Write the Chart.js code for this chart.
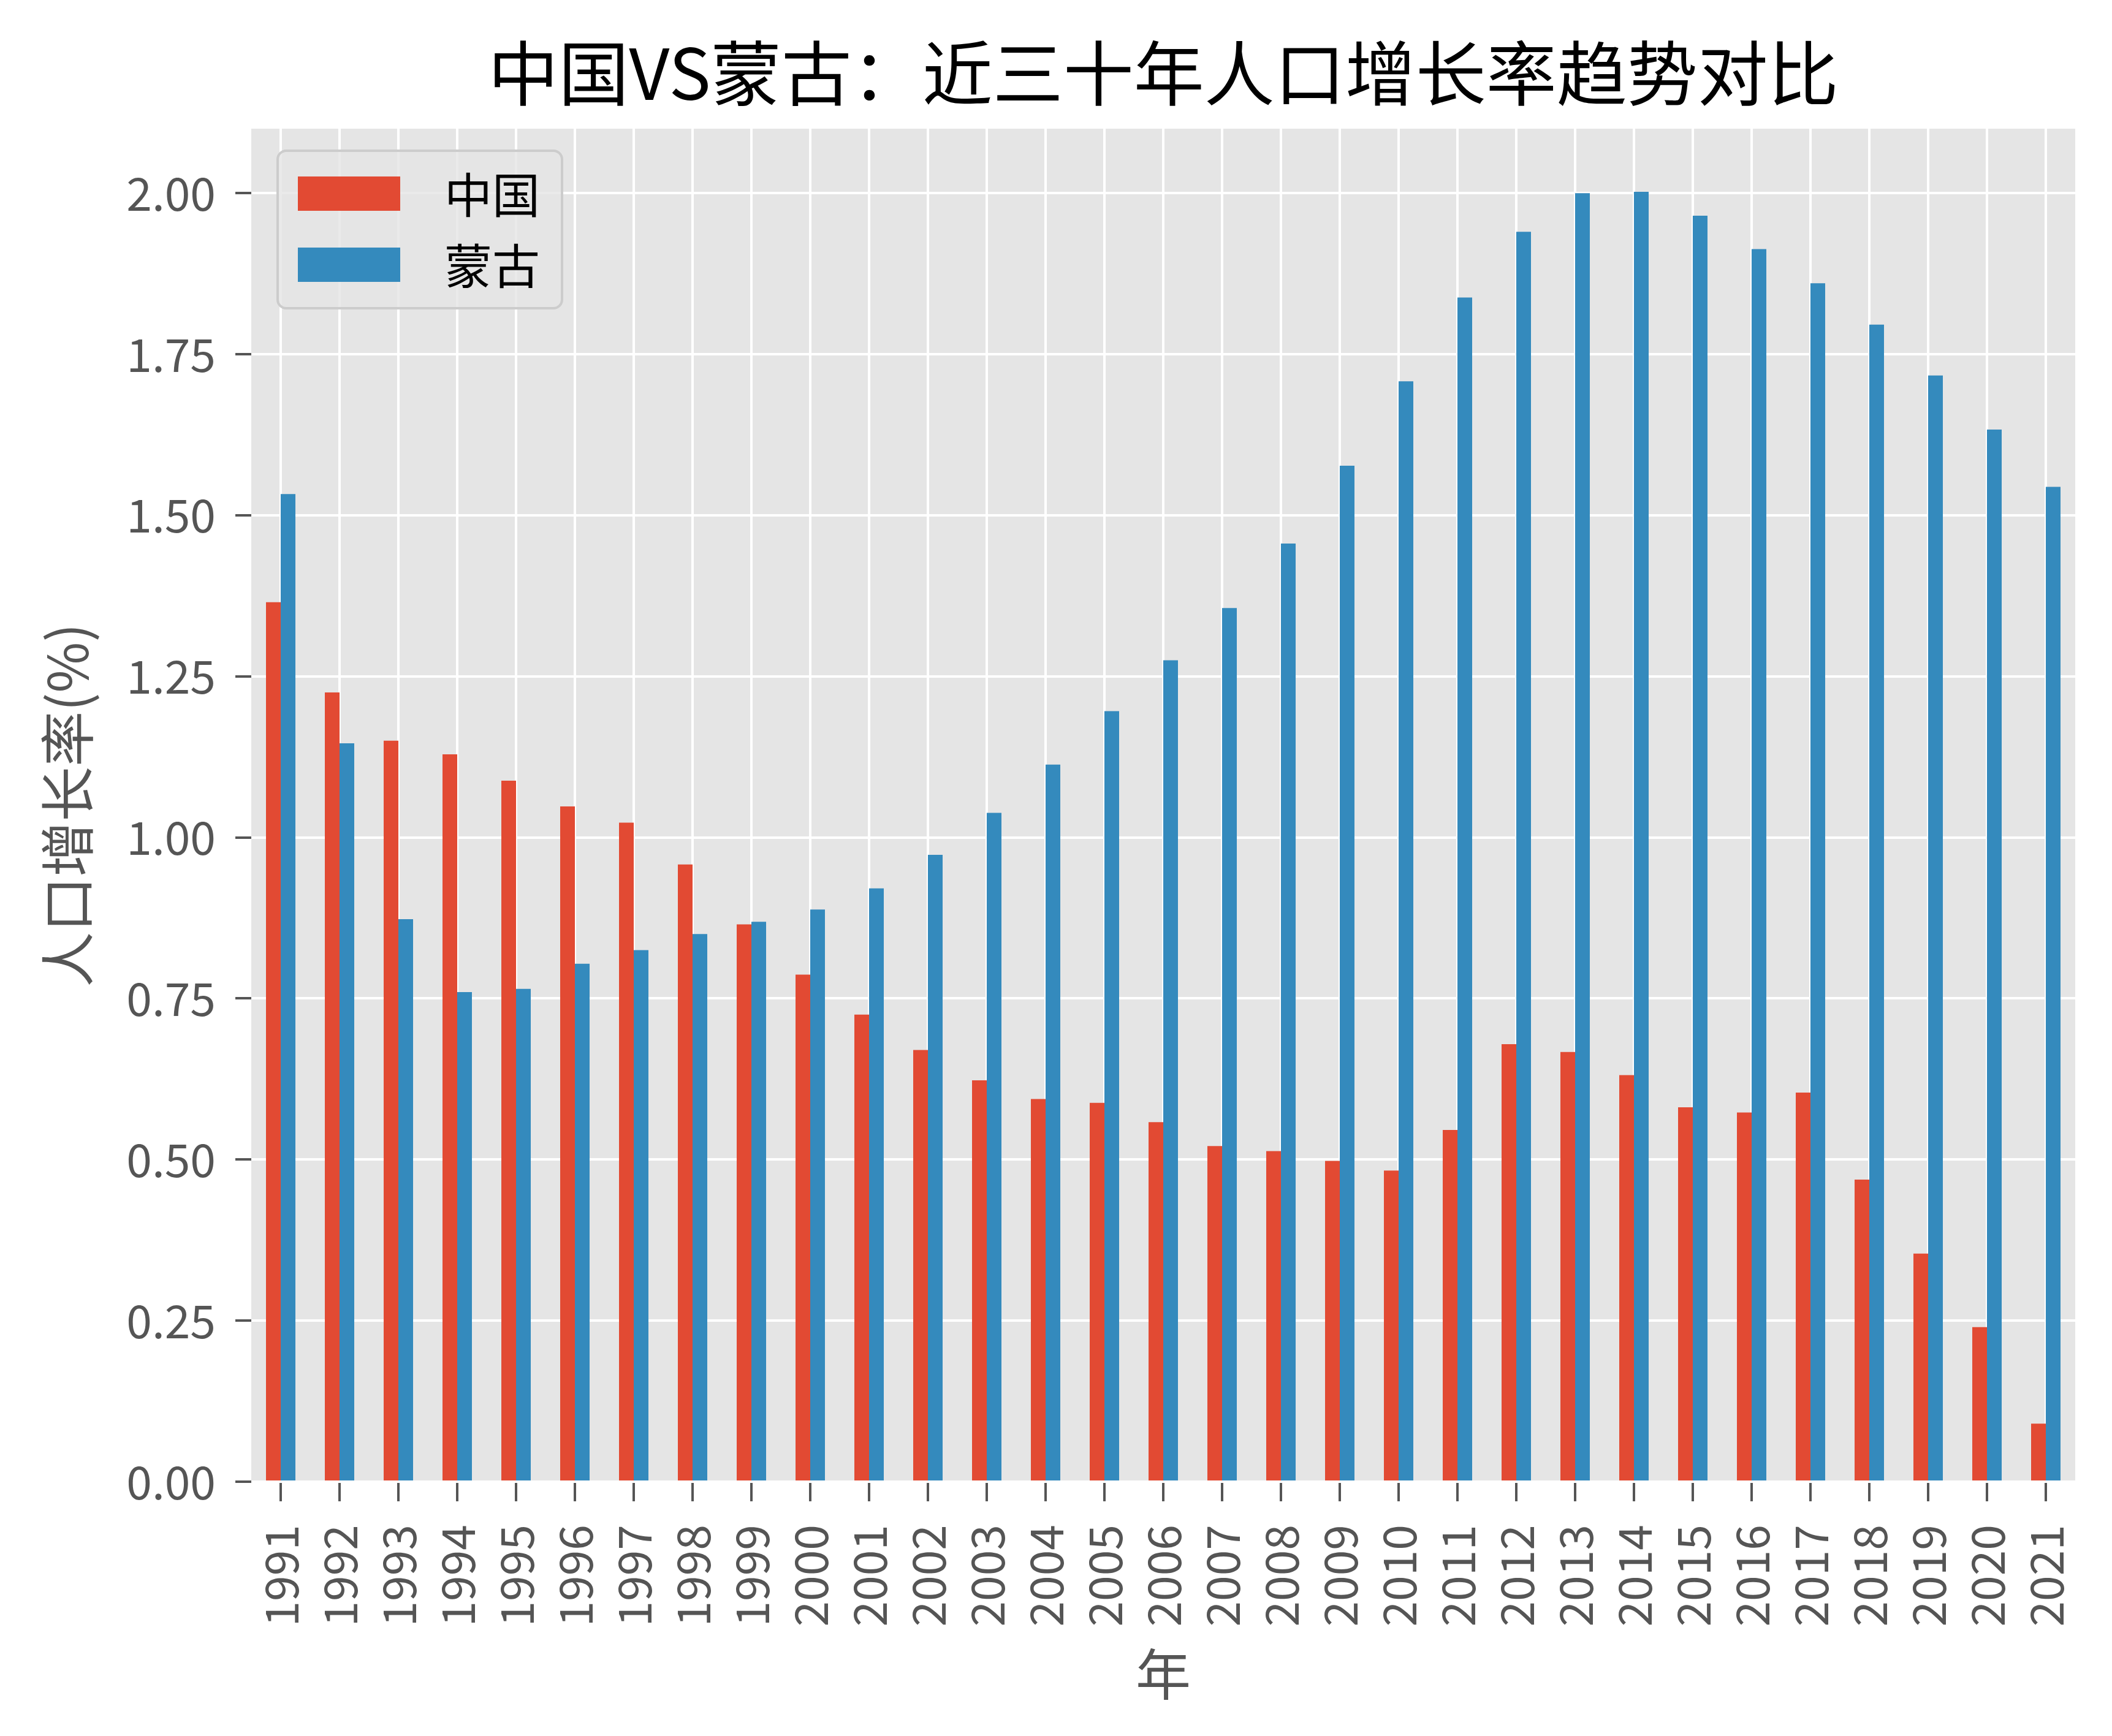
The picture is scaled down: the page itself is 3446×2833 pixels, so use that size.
<!DOCTYPE html>
<html>
<head>
<meta charset="utf-8">
<script src="https://cdn.jsdelivr.net/npm/chart.js@4"></script>
<style>
  html, body { margin: 0; padding: 0; background: #ffffff; }
  canvas { display: block; }
</style>
</head>
<body>
<canvas id="growthChart" width="3446" height="2833"></canvas>
<script>
// years on the x axis
var years = ['1991', '1992', '1993', '1994', '1995', '1996', '1997', '1998', '1999', '2000',
             '2001', '2002', '2003', '2004', '2005', '2006', '2007', '2008', '2009', '2010',
             '2011', '2012', '2013', '2014', '2015', '2016', '2017', '2018', '2019', '2020', '2021'];

// population growth rate (%)
var chinaGrowth = [1.365, 1.225, 1.150, 1.129, 1.088, 1.048, 1.023, 0.958, 0.865, 0.787,
                   0.725, 0.670, 0.623, 0.594, 0.588, 0.558, 0.521, 0.513, 0.498, 0.483,
                   0.546, 0.679, 0.667, 0.631, 0.581, 0.573, 0.604, 0.469, 0.354, 0.240, 0.090];

var mongoliaGrowth = [1.533, 1.146, 0.873, 0.760, 0.765, 0.804, 0.825, 0.850, 0.869, 0.888,
                      0.921, 0.973, 1.038, 1.113, 1.196, 1.275, 1.356, 1.456, 1.577, 1.708,
                      1.838, 1.940, 2.000, 2.002, 1.965, 1.913, 1.860, 1.796, 1.717, 1.633, 1.544];

var yTickValues = [0, 0.25, 0.5, 0.75, 1.0, 1.25, 1.5, 1.75, 2.0];

var cjkFont = '"Noto Sans CJK SC", "Noto Sans", sans-serif';

// grey panel behind the plot, ggplot style
var panelBackground = {
    id: 'panelBackground',
    beforeDraw: function(chart) {
        var a = chart.chartArea;
        var ctx = chart.ctx;
        ctx.save();
        ctx.fillStyle = '#E5E5E5';
        ctx.fillRect(a.left, a.top, a.right - a.left, a.bottom - a.top);
        ctx.restore();
    }
};

// legend drawn inside the plot, top left
var insideLegend = {
    id: 'insideLegend',
    afterDatasetsDraw: function(chart) {
        var a = chart.chartArea;
        var ctx = chart.ctx;
        var x = a.left + 43, y = a.top + 36, w = 464, h = 257, r = 14;
        ctx.save();
        ctx.beginPath();
        ctx.moveTo(x + r, y);
        ctx.arcTo(x + w, y, x + w, y + h, r);
        ctx.arcTo(x + w, y + h, x, y + h, r);
        ctx.arcTo(x, y + h, x, y, r);
        ctx.arcTo(x, y, x + w, y, r);
        ctx.closePath();
        ctx.fillStyle = 'rgba(229, 229, 229, 0.8)';
        ctx.fill();
        ctx.lineWidth = 4;
        ctx.strokeStyle = '#CCCCCC';
        ctx.stroke();

        ctx.font = '78px ' + cjkFont;
        ctx.textBaseline = 'middle';
        ctx.textAlign = 'left';
        chart.data.datasets.forEach(function(ds, i) {
            var sy = y + 42 + i * 116;
            ctx.fillStyle = ds.backgroundColor;
            ctx.fillRect(x + 33, sy, 167, 56);
            ctx.fillStyle = '#000000';
            ctx.fillText(ds.label, x + 272, sy + 30);
        });
        ctx.restore();
    }
};

var ctx = document.getElementById('growthChart').getContext('2d');
var chart = new Chart(ctx, {
    type: 'bar',
    data: {
        labels: years,
        datasets: [
            {
                label: '中国',
                data: chinaGrowth,
                backgroundColor: '#E24A33'
            },
            {
                label: '蒙古',
                data: mongoliaGrowth,
                backgroundColor: '#348ABD'
            }
        ]
    },
    options: {
        responsive: false,
        animation: false,
        devicePixelRatio: 1,
        layout: {
            padding: { left: 0, right: 60, top: 0, bottom: 0 }
        },
        datasets: {
            bar: {
                categoryPercentage: 0.5,
                barPercentage: 1.0
            }
        },
        plugins: {
            legend: { display: false },
            tooltip: { enabled: false },
            title: {
                display: true,
                fullSize: false,
                text: '中国VS蒙古：近三十年人口增长率趋势对比',
                color: '#000000',
                font: { family: cjkFont, size: 115, weight: 'normal' },
                padding: { top: 50, bottom: 22 }
            }
        },
        scales: {
            x: {
                border: { display: false },
                grid: {
                    offset: false,
                    color: '#FFFFFF',
                    lineWidth: 4,
                    tickColor: '#555555',
                    tickWidth: 4,
                    tickLength: 32
                },
                ticks: {
                    color: '#555555',
                    font: { family: cjkFont, size: 75 },
                    minRotation: 90,
                    maxRotation: 90,
                    padding: 38,
                    autoSkip: false
                },
                title: {
                    display: true,
                    text: '年',
                    color: '#555555',
                    font: { family: cjkFont, size: 90 },
                    padding: { top: 0, bottom: 47 }
                },
                afterFit: function(scale) {
                    scale.height = 415;
                    scale.paddingLeft = 0;
                    scale.paddingRight = 0;
                }
            },
            y: {
                min: 0,
                max: 2.1,
                border: { display: false },
                grid: {
                    color: '#FFFFFF',
                    lineWidth: 4,
                    tickColor: '#555555',
                    tickWidth: 4,
                    tickLength: 26
                },
                ticks: {
                    color: '#555555',
                    font: { family: cjkFont, size: 75 },
                    padding: 32,
                    callback: function(value) {
                        return Number(value).toFixed(2);
                    }
                },
                afterBuildTicks: function(scale) {
                    scale.ticks = yTickValues.map(function(v) { return { value: v }; });
                },
                title: {
                    display: true,
                    text: '人口增长率(%)',
                    color: '#555555',
                    font: { family: cjkFont, size: 90 },
                    padding: { top: 56, bottom: 0 }
                },
                afterFit: function(scale) {
                    scale.width = 410;
                    scale.paddingTop = 0;
                    scale.paddingBottom = 0;
                }
            }
        }
    },
    plugins: [panelBackground, insideLegend]
});
</script>
</body>
</html>
